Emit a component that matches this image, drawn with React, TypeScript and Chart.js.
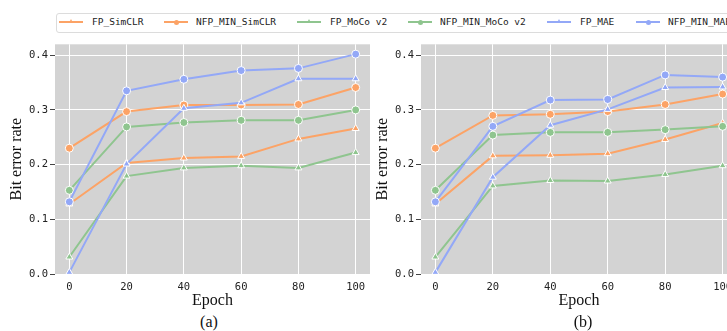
import React, { useEffect, useRef } from 'react';
import { Chart, registerables } from 'chart.js';
Chart.register(...registerables);

const epochs = [0, 20, 40, 60, 80, 100];
const xTicks = [0, 20, 40, 60, 80, 100];
const yTicks = [0, 0.1, 0.2, 0.3, 0.4];
const seriesNames = ['FP_SimCLR', 'NFP_MIN_SimCLR', 'FP_MoCo v2', 'NFP_MIN_MoCo v2', 'FP_MAE', 'NFP_MIN_MAE'];
const seriesColors = ['#fca366', '#fca366', '#8fc58f', '#8fc58f', '#93a8f7', '#93a8f7'];
const seriesMarkers = ['triangle', 'circle', 'triangle', 'circle', 'triangle', 'circle'];

// panel (a)
const aFpSimclr = [0.128, 0.203, 0.212, 0.215, 0.247, 0.266];
const aNfpSimclr = [0.230, 0.297, 0.309, 0.309, 0.310, 0.341];
const aFpMoco = [0.031, 0.179, 0.194, 0.198, 0.194, 0.222];
const aNfpMoco = [0.153, 0.269, 0.277, 0.281, 0.281, 0.300];
const aFpMae = [0.003, 0.201, 0.303, 0.313, 0.357, 0.357];
const aNfpMae = [0.132, 0.335, 0.356, 0.372, 0.376, 0.402];
// panel (b)
const bFpSimclr = [0.128, 0.216, 0.217, 0.220, 0.246, 0.276];
const bNfpSimclr = [0.230, 0.290, 0.292, 0.297, 0.310, 0.329];
const bFpMoco = [0.031, 0.161, 0.171, 0.170, 0.182, 0.198];
const bNfpMoco = [0.153, 0.254, 0.259, 0.259, 0.264, 0.270];
const bFpMae = [0.003, 0.177, 0.272, 0.301, 0.341, 0.342];
const bNfpMae = [0.132, 0.270, 0.318, 0.319, 0.364, 0.360];

const panelA = [aFpSimclr, aNfpSimclr, aFpMoco, aNfpMoco, aFpMae, aNfpMae];
const panelB = [bFpSimclr, bNfpSimclr, bFpMoco, bNfpMoco, bFpMae, bNfpMae];

const MONO = '"DejaVu Sans Mono", monospace';
const SERIF = '"Liberation Serif", serif';

const bgPlugin = {
  id: 'plotBg',
  beforeDraw(chart: any) {
    const { ctx, chartArea } = chart;
    ctx.save();
    ctx.fillStyle = '#d3d3d3';
    ctx.fillRect(chartArea.left, chartArea.top, chartArea.width, chartArea.height);
    ctx.restore();
  },
};

function Panel({ series, left, width }: { series: number[][]; left: number; width: number }) {
  const ref = useRef<HTMLCanvasElement>(null);
  useEffect(() => {
    const chart = new Chart(ref.current as HTMLCanvasElement, {
      type: 'line',
      data: {
        datasets: series.map((vals, i) => ({
          label: seriesNames[i],
          data: epochs.map((x, j) => ({ x, y: vals[j] })),
          borderColor: seriesColors[i],
          backgroundColor: seriesColors[i],
          borderWidth: 2,
          pointStyle: seriesMarkers[i] as any,
          pointRadius: 4,
          pointBackgroundColor: seriesColors[i],
          pointBorderColor: '#ffffff',
          pointBorderWidth: 1,
          order: series.length - i,
          tension: 0,
        })),
      },
      options: {
        animation: false,
        responsive: false,
        devicePixelRatio: 1,
        layout: { padding: { top: 5, right: 10, left: 0, bottom: 0 } },
        plugins: { legend: { display: false }, tooltip: { enabled: false } },
        scales: {
          x: {
            type: 'linear',
            min: -5,
            max: 105,
            afterBuildTicks: (s: any) => {
              s.ticks = xTicks.map((v) => ({ value: v }));
            },
            afterFit: (s: any) => {
              s.height = 38;
            },
            ticks: {
              font: { family: MONO, size: 10.5 },
              color: '#222',
              padding: 3,
              maxRotation: 0,
              callback: (v: any) => String(v),
            },
            grid: { color: '#ffffff', lineWidth: 1, tickLength: 4, tickColor: 'rgba(0,0,0,0)' },
            border: { display: false },
            title: {
              display: true,
              text: 'Epoch',
              font: { family: SERIF, size: 16 },
              color: '#111',
              padding: { top: 0, bottom: 2 },
            },
          },
          y: {
            type: 'linear',
            min: 0,
            max: 0.42,
            afterBuildTicks: (s: any) => {
              s.ticks = yTicks.map((v) => ({ value: v }));
            },
            afterFit: (s: any) => {
              s.width = 55;
            },
            ticks: {
              font: { family: MONO, size: 10.5 },
              color: '#222',
              padding: 2,
              callback: (v: any) => Number(v).toFixed(1),
            },
            grid: { color: '#ffffff', lineWidth: 1, tickLength: 5, tickColor: '#444' },
            border: { display: false },
            title: {
              display: true,
              text: 'Bit error rate',
              font: { family: SERIF, size: 16 },
              color: '#111',
              padding: { top: 7, bottom: 0 },
            },
          },
        },
      },
      plugins: [bgPlugin],
    });
    return () => chart.destroy();
  }, []);
  return (
    <canvas
      ref={ref}
      width={width}
      height={276}
      style={{ position: 'absolute', left, top: 36, width, height: 276 }}
    />
  );
}

const legendLineX = [59, 164, 297, 408, 547, 636];
const legendTextX = [92, 196, 330, 440, 580, 668];

function Legend() {
  return (
    <div>
      <div
        style={{
          position: 'absolute',
          left: 56,
          top: 13,
          width: 740,
          height: 18,
          border: '1px solid #dcdcdc',
          borderRadius: 3,
          background: '#fff',
        }}
      />
      {seriesNames.map((name, i) => (
        <React.Fragment key={name}>
          <div
            style={{
              position: 'absolute',
              left: legendLineX[i],
              top: 21,
              width: 24,
              height: 2,
              background: seriesColors[i],
            }}
          />
          {seriesMarkers[i] === 'circle' ? (
            <div
              style={{
                position: 'absolute',
                left: legendLineX[i] + 9.5,
                top: 19.5,
                width: 5,
                height: 5,
                borderRadius: '50%',
                background: seriesColors[i],
              }}
            />
          ) : (
            <div
              style={{
                position: 'absolute',
                left: legendLineX[i] + 9.5,
                top: 19,
                width: 0,
                height: 0,
                borderLeft: '2.5px solid transparent',
                borderRight: '2.5px solid transparent',
                borderBottom: '4.5px solid ' + seriesColors[i],
              }}
            />
          )}
          <div
            style={{
              position: 'absolute',
              left: legendTextX[i],
              top: 15,
              lineHeight: '14px',
              fontFamily: MONO,
              fontSize: 9.5,
              color: '#222',
              whiteSpace: 'nowrap',
            }}
          >
            {name}
          </div>
        </React.Fragment>
      ))}
    </div>
  );
}

export default function App() {
  return (
    <div
      style={{
        position: 'fixed',
        left: 0,
        top: 0,
        width: 727,
        height: 331,
        overflow: 'hidden',
        background: '#fff',
      }}
    >
      <Legend />
      <Panel series={panelA} left={0} width={380} />
      <Panel series={panelB} left={366} width={381} />
      <div
        style={{
          position: 'absolute',
          left: 189,
          width: 40,
          top: 313,
          lineHeight: '18px',
          textAlign: 'center',
          fontFamily: SERIF,
          fontSize: 16,
          color: '#111',
        }}
      >
        (a)
      </div>
      <div
        style={{
          position: 'absolute',
          left: 563,
          width: 40,
          top: 313,
          lineHeight: '18px',
          textAlign: 'center',
          fontFamily: SERIF,
          fontSize: 16,
          color: '#111',
        }}
      >
        (b)
      </div>
    </div>
  );
}
